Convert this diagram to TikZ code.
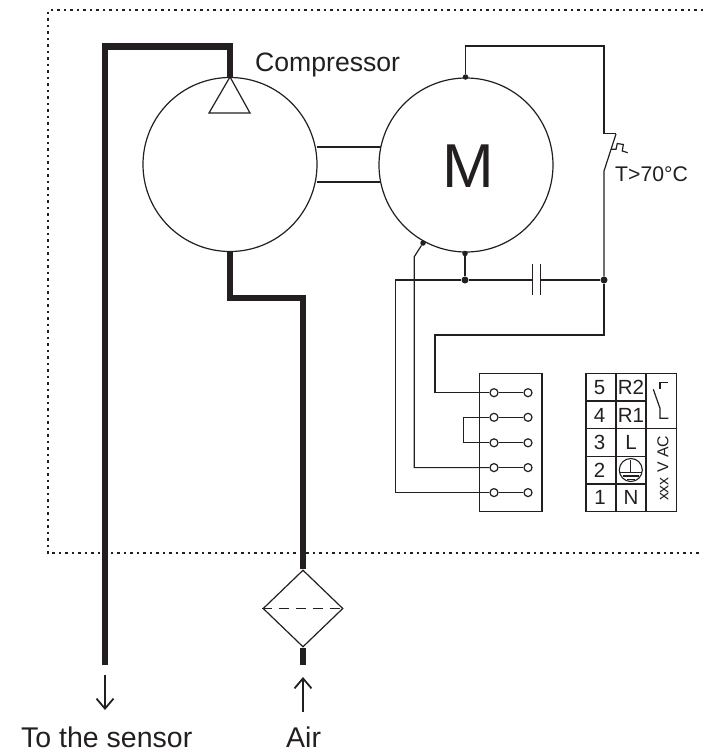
\documentclass[tikz,border=0pt]{standalone}
\usepackage{fontspec}
\setmainfont{Liberation Sans}
\definecolor{ink}{HTML}{231F20}
\newcommand{\fs}[1]{\fontsize{#1}{#1}\selectfont}
\tikzset{
  wire/.style={draw=ink,line width=1.2pt,line join=miter},
  pipe/.style={draw=ink,line width=6.2pt,line join=miter},
  unit/.style={circle,draw=ink,line width=1.2pt,minimum size=174pt,inner sep=0pt},
  lbl/.style={text=ink,inner sep=0pt,anchor=base west},
  cell/.style={text=ink,inner sep=0pt,anchor=center,font=\fs{20.5}},
  dotj/.style={circle,fill=ink,minimum size=7pt,inner sep=0pt},
  tap/.style={circle,fill=ink,minimum size=5.5pt,inner sep=0pt},
  term/.style={circle,draw=ink,fill=white,line width=1.2pt,minimum size=8pt,inner sep=0pt},
  filt/.style={diamond,draw=ink,line width=1.2pt,minimum width=80pt,minimum height=77pt,inner sep=0pt,aspect=1.04},
  flow/.style={draw=ink,line width=1.8pt,-{Straight Barb[length=10pt,width=17pt,line width=1.8pt]}}
}
\usetikzlibrary{shapes.geometric,arrows.meta}
\begin{document}
\begin{tikzpicture}[x=1pt,y=-1pt]
\useasboundingbox (0,0) rectangle (703,753);
% enclosure
\draw[draw=ink,line width=1.3pt,dash pattern=on 2.5pt off 4pt] (703,10) -- (48,10) -- (48,553) -- (703,553);
% units
\node[unit] (comp) at (230,164.5) {};
\node[unit] (motor) at (466,165) {};
\node[text=ink,inner sep=0pt,font=\fs{62}] (mlabel) at (468.5,166) {M};
% pipes
\coordinate (sensorend) at (105,665);
\coordinate (c1) at (105,46.5);
\coordinate (c2) at (230,46.5);
\coordinate (c3) at (230,298);
\coordinate (c4) at (303,298);
\node[filt] (filter) at (303,608.5) {};
\coordinate (airend) at (303,665);
\draw[pipe] (sensorend) -- (c1) -- (c2) -- (comp.north);
\draw[pipe] (comp.south) -- (c3) -- (c4) -- (filter.north);
\draw[pipe] (filter.south) -- (airend);
\draw[draw=ink,line width=1.2pt,dash pattern=on 9.5pt off 7.5pt] (filter.west) -- (filter.east);
\draw[draw=ink,line width=1.2pt,line join=miter] (comp.north) -- (250,113) -- (209,113) -- cycle;
% shaft
\draw[wire] (316.5,147) -- (381,147);
\draw[wire] (316.5,182) -- (381,182);
% arrows and labels
\coordinate (a1s) at (105,675); \coordinate (a1e) at (105,710);
\coordinate (a2s) at (303,712); \coordinate (a2e) at (303,677);
\draw[flow] (a1s) -- (a1e);
\draw[flow] (a2s) -- (a2e);
\node[lbl,font=\fs{28.5}] (tosensor) at (21,747.5) {To the sensor};
\node[lbl,font=\fs{28.5}] (air) at (286,747.5) {Air};
\node[lbl,font=\fs{26.6}] (complabel) at (255,71) {Compressor};
\node[lbl,font=\fs{21.2}] (tlabel) at (615,181.5) {T>70°C};
% motor wiring
\node[tap] (mtop) at (465.5,77) {};
\node[tap] (mbot) at (465,253.5) {};
\node[tap] (mside) at (423,243) {};
\node[dotj] (j1) at (465,280) {};
\node[dotj] (j2) at (604,280) {};
\coordinate (sw1) at (604,133.5);
\coordinate (sw2) at (604,171);
\draw[wire] (mtop) -- (465.5,46) -- (604,46) -- (sw1) -- (615.5,133.5);
\draw[wire] (616,134) -- (sw2) -- (j2);
\draw[wire] (611,149.3) -- (616,149.3) -- (617.3,143.5) -- (623.3,144.5) -- (622.3,151) -- (627.7,152.7);
\draw[wire,line width=1.4pt] (mbot) -- (j1);
% capacitor
\coordinate (capa) at (532.7,280);
\coordinate (capb) at (540.3,280);
\draw[wire] (j1) -- (capa);
\draw[wire] (capb) -- (j2);
\draw[wire] (532.7,263.5) -- (532.7,295);
\draw[wire] (540.3,263.5) -- (540.3,295);
% terminal strip
\draw[wire] (479.5,373.3) rectangle (542,511.7);
\node[term] (t1a) at (494,392.7) {}; \node[term] (t1b) at (528,392.7) {};
\node[term] (t2a) at (494,417.3) {}; \node[term] (t2b) at (528,417.3) {};
\node[term] (t3a) at (494,442.8) {}; \node[term] (t3b) at (528,442.8) {};
\node[term] (t4a) at (494,467.6) {}; \node[term] (t4b) at (528,467.6) {};
\node[term] (t5a) at (494,492.6) {}; \node[term] (t5b) at (528,492.6) {};
\draw[wire] (t1a) -- (t1b);
\draw[wire] (t2a) -- (t2b);
\draw[wire] (t3a) -- (t3b);
\draw[wire] (t4a) -- (t4b);
\draw[wire] (t5a) -- (t5b);
\draw[wire] (j2) -- (604,335) -- (435,335) -- (435,392.7) -- (t1a);
\draw[wire] (t2a) -- (463.3,417.3) -- (463.3,442.8) -- (t3a);
\draw[wire] (mside) -- (414.3,256.7) -- (414.3,467.6) -- (t4a);
\draw[wire] (j1) -- (395.7,280) -- (395.7,492.6) -- (t5a);
% table
\draw[wire] (586,373.3) rectangle (676.3,511.7);
\draw[wire] (616,373.3) -- (616,511.7);
\draw[wire] (646,373.3) -- (646,511.7);
\draw[wire] (586,401) -- (646,401);
\draw[wire] (586,428.7) -- (676.3,428.7);
\draw[wire] (586,456.3) -- (646,456.3);
\draw[wire] (586,484) -- (646,484);
\node[cell] (n5) at (599.5,387.3) {5};
\node[cell] (n4) at (599.5,415) {4};
\node[cell] (n3) at (599.5,442.5) {3};
\node[cell] (n2) at (599.5,470.3) {2};
\node[cell] (n1) at (600,497.8) {1};
\node[cell] (r2) at (631,387.3) {R2};
\node[cell] (r1) at (631,415) {R1};
\node[cell] (l) at (631,442.5) {L};
\node[cell] (nn) at (631,497.8) {N};
\node[circle,draw=ink,line width=1.1pt,minimum size=23pt,inner sep=0pt] (earth) at (630.8,470) {};
\draw[wire] (630.8,460) -- (630.8,472.7);
\draw[wire] (620,472.7) -- (642,472.7);
\draw[wire] (623,476) -- (639,476);
\draw[wire] (627,479.3) -- (635,479.3);
\node[text=ink,inner sep=0pt,font=\fs{15.8},rotate=90] (volt) at (663,468.5) {xxx V AC};
\draw[wire] (668.3,382.7) -- (660,382.7) -- (660,389.3);
\draw[wire] (653.3,389.3) -- (660,408.3) -- (660,418.3) -- (668.3,418.3);
\end{tikzpicture}
\end{document}
